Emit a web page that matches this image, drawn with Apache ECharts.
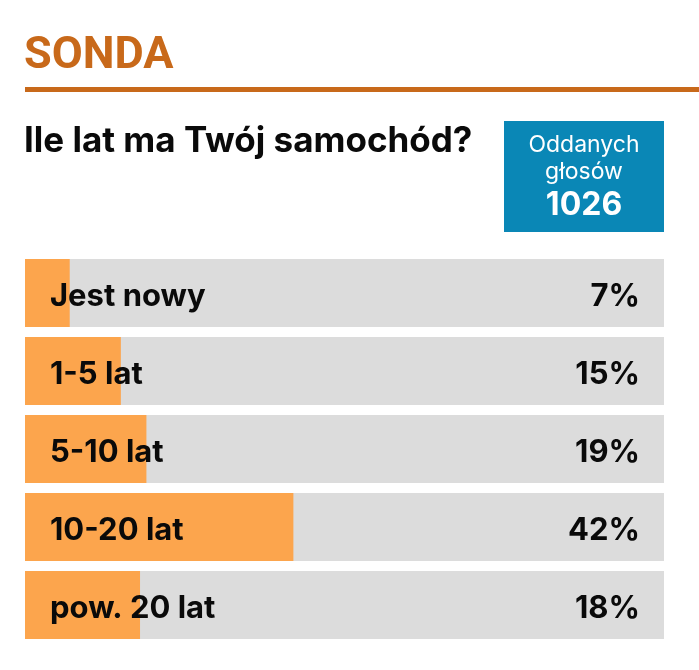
<!DOCTYPE html>
<html><head><meta charset="utf-8">
<script src="https://cdn.jsdelivr.net/npm/echarts@6/dist/echarts.min.js"></script>
<style>html,body{margin:0;padding:0;background:#fff}#c{width:699px;height:670px}</style>
</head><body><div id="c"></div>
<script>
const categories = ['Jest nowy', '1-5 lat', '5-10 lat', '10-20 lat', 'pow. 20 lat'];
const values = [7, 15, 19, 42, 18];
const valueLabels = values.map(v => v + '%');
const title = 'SONDA';
const question = 'Ile lat ma Twój samochód?';
const votesLabel = ['Oddanych', 'głosów'];
const votes = 1026;

const FONT = 'Inter, Roboto, "Liberation Sans", sans-serif';
const TFONT = 'Roboto, "Liberation Sans", sans-serif';
const labelRich = {v: {color: '#0a0a0a', fontFamily: FONT, fontWeight: 'bold', fontSize: 31, padding: [8, 0, 0, 0]}};
const chart = echarts.init(document.getElementById('c'), null, {renderer: 'canvas'});
chart.setOption({
  animation: false,
  backgroundColor: '#ffffff',
  grid: {left: 25, right: 35, top: 254, bottom: 26, containLabel: false},
  xAxis: {type: 'value', min: 0, max: 100, show: false},
  yAxis: [
    {type: 'category', data: categories, inverse: true, position: 'left', z: 10,
     axisLine: {show: false}, axisTick: {show: false}, splitLine: {show: false},
     axisLabel: {inside: true, margin: 25, formatter: '{v|{value}}', rich: labelRich}},
    {type: 'category', data: valueLabels, inverse: true, position: 'right', z: 10,
     axisLine: {show: false}, axisTick: {show: false}, splitLine: {show: false},
     axisLabel: {inside: true, margin: 24, formatter: '{v|{value}}', rich: labelRich}}
  ],
  series: [{
    type: 'bar', data: values, barWidth: 68, yAxisIndex: 0,
    itemStyle: {color: '#FCA54D'},
    showBackground: true,
    backgroundStyle: {color: '#DCDCDC'}
  }],
  graphic: [
    {type: 'text', x: 24, y: 57, style: {text: title, fill: '#C8691A', font: 'bold 45px ' + TFONT, verticalAlign: 'middle'}},
    {type: 'rect', shape: {x: 25, y: 87, width: 674, height: 5}, style: {fill: '#C8691A'}},
    {type: 'text', x: 24, y: 141, style: {text: question, fill: '#0a0a0a', font: 'bold 35px ' + FONT, verticalAlign: 'middle'}},
    {type: 'rect', shape: {x: 504, y: 121, width: 160, height: 111}, style: {fill: '#0A87B6'}},
    {type: 'text', x: 584, y: 145, style: {text: votesLabel[0], fill: '#fff', font: '23px ' + FONT, align: 'center', verticalAlign: 'middle'}},
    {type: 'text', x: 584, y: 172, style: {text: votesLabel[1], fill: '#fff', font: '23px ' + FONT, align: 'center', verticalAlign: 'middle'}},
    {type: 'text', x: 584, y: 205, style: {text: String(votes), fill: '#fff', font: 'bold 32px ' + FONT, align: 'center', verticalAlign: 'middle'}}
  ]
});
</script></body></html>
